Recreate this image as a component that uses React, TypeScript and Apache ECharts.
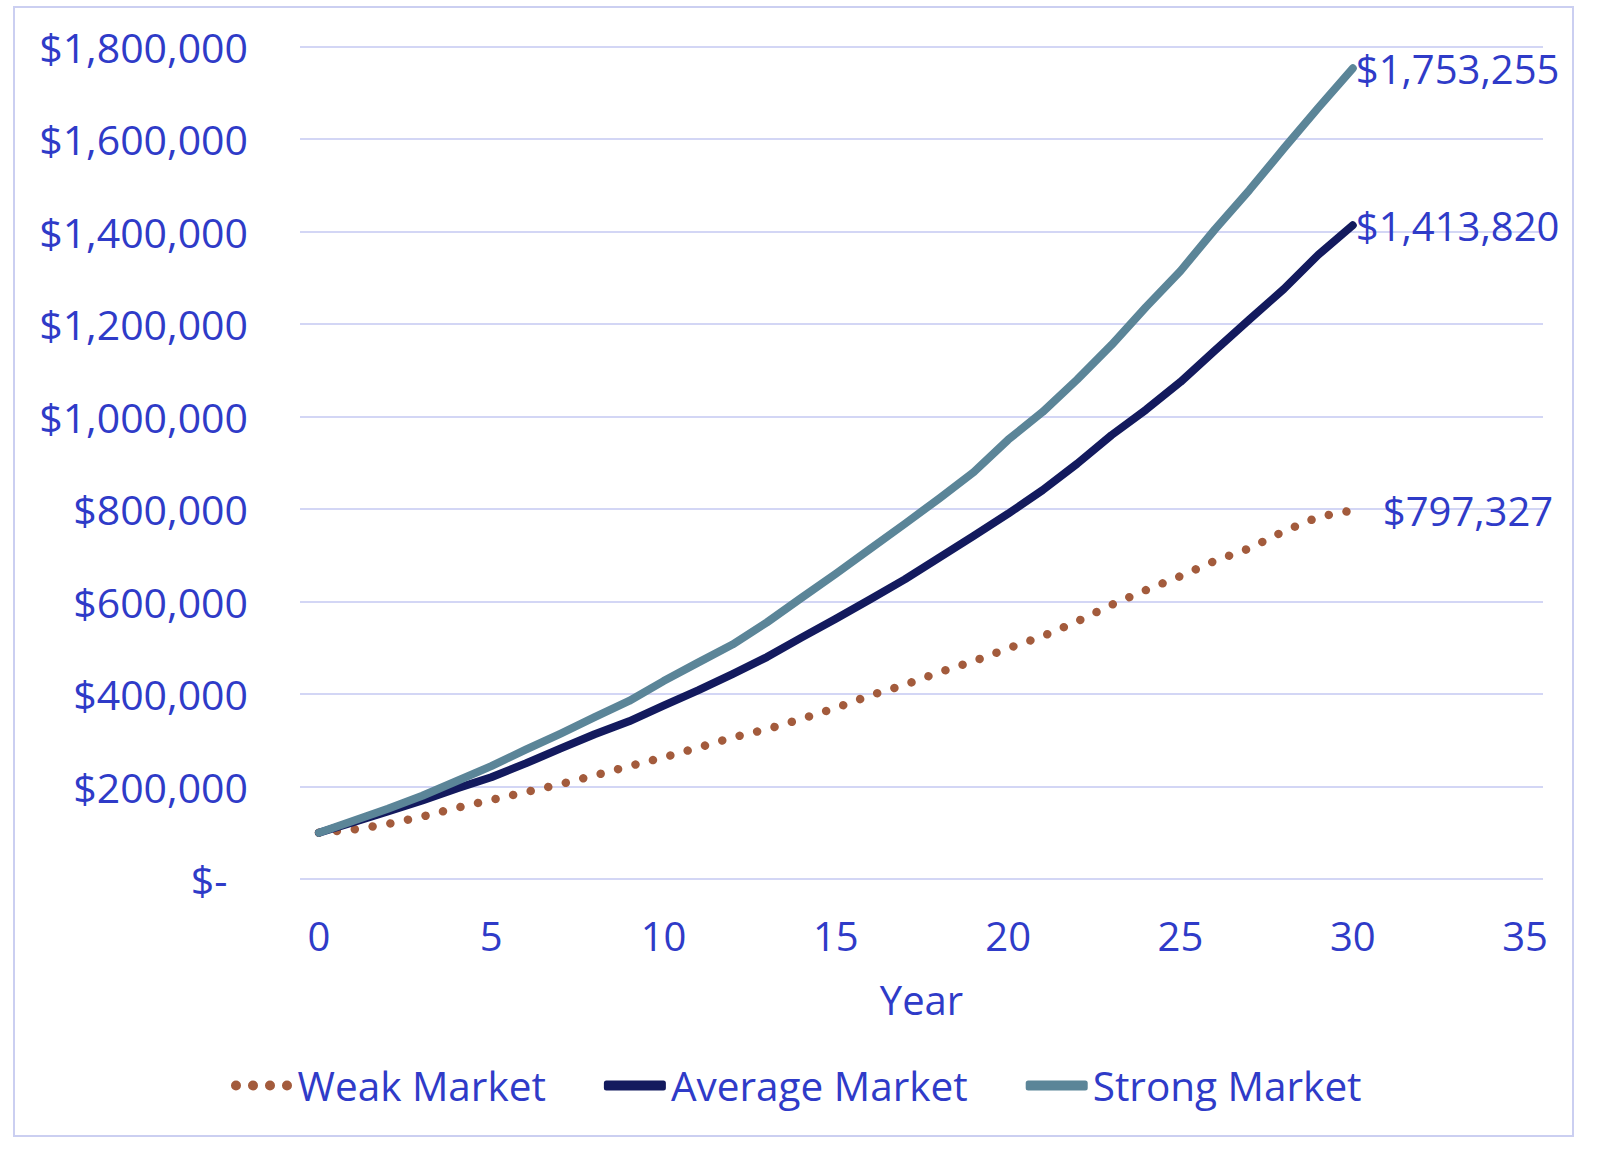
import React, { useEffect, useRef } from "react";
import * as echarts from "echarts";

const years = [0,1,2,3,4,5,6,7,8,9,10,11,12,13,14,15,16,17,18,19,20,21,22,23,24,25,26,27,28,29,30];
const weakMarket = [100000,107000,119000,135000,154000,171000,188000,205000,224000,244000,263000,284000,306000,324000,346000,370000,397000,420000,447000,471000,499000,525000,557000,593000,625000,655000,688000,715000,752000,783000,797327];
const averageMarket = [100000,123000,146000,170000,196000,220000,250000,282000,313000,341000,375000,408000,443000,480000,522000,563000,605000,648000,695000,742000,790000,841000,898000,960000,1015000,1075000,1143000,1210000,1276000,1350000,1413820];
const strongMarket = [100000,126000,152000,180000,212000,244000,280000,314000,350000,385000,428000,468000,507000,555000,608000,660000,714000,768000,823000,880000,950000,1010000,1080000,1155000,1237000,1315000,1405000,1490000,1580000,1668000,1753255];
const xTicks = [0,5,10,15,20,25,30,35];
const seriesNames = ["Weak Market", "Average Market", "Strong Market"];

const FONT = "'Open Sans', 'Noto Sans', sans-serif";
const TEXT = "#2F3BC8";
const GRID = "#D3D6F5";
const C_WEAK = "#A35B3C";
const C_AVG = "#131A5E";
const C_STRONG = "#5B8598";

const DOTS_ICON =
  "path://M0,5a5,5 0 1,0 10,0a5,5 0 1,0 -10,0z" +
  "M17,5a5,5 0 1,0 10,0a5,5 0 1,0 -10,0z" +
  "M34,5a5,5 0 1,0 10,0a5,5 0 1,0 -10,0z" +
  "M51,5a5,5 0 1,0 10,0a5,5 0 1,0 -10,0z";

const fmt = (v: number) => "$" + Math.round(v).toLocaleString("en-US");

const toData = (vals: number[]) => vals.map((v, i) => [years[i], v]);

const endLabel = (dist: number) => ({
  show: true,
  distance: dist,
  formatter: (p: any) => fmt(p.value[1]),
  color: TEXT,
  fontSize: 40,
  fontFamily: FONT,
});

export default function App() {
  const ref = useRef<HTMLDivElement>(null);
  useEffect(() => {
    document.body.style.margin = "0";
    if (!ref.current) return;
    const chart = echarts.init(ref.current, undefined, { renderer: "svg" });
    chart.setOption({
      animation: false,
      backgroundColor: "#ffffff",
      textStyle: { fontFamily: FONT },
      graphic: [
        {
          type: "rect",
          shape: { x: 14, y: 7, width: 1559, height: 1129 },
          style: { fill: "none", stroke: "#CBCFF1", lineWidth: 2 },
          silent: true,
        },
      ],
      grid: { left: 300, right: 57, top: 46.7, bottom: 273, containLabel: false },
      xAxis: {
        type: "value",
        min: -0.55,
        max: 35.52,
        name: "Year",
        nameLocation: "middle",
        nameGap: 100,
        nameTextStyle: { color: TEXT, fontSize: 40, fontFamily: FONT },
        axisLine: { show: false },
        axisTick: { show: false },
        splitLine: { show: false },
        axisLabel: {
          customValues: xTicks,
          color: TEXT,
          fontSize: 40,
          fontFamily: FONT,
          margin: 36,
        },
      },
      yAxis: {
        type: "value",
        min: 0,
        max: 1800000,
        interval: 200000,
        axisLine: { show: false },
        axisTick: { show: false },
        splitLine: { show: true, lineStyle: { color: GRID, width: 2 } },
        axisLabel: {
          color: TEXT,
          fontSize: 41,
          fontFamily: FONT,
          margin: 52,
          formatter: (v: number) => (v === 0 ? "$-\u2002" : fmt(v)),
        },
      },
      legend: {
        bottom: 41,
        left: 226,
        itemWidth: 62,
        itemHeight: 10,
        itemGap: 58,
        textStyle: { color: TEXT, fontSize: 40.5, fontFamily: FONT, padding: [0, 0, 0, 0] },
        data: [
          { name: seriesNames[0], icon: DOTS_ICON, itemStyle: { color: C_WEAK } },
          { name: seriesNames[1], icon: "roundRect", itemStyle: { color: C_AVG } },
          { name: seriesNames[2], icon: "roundRect", itemStyle: { color: C_STRONG } },
        ],
      },
      series: [
        {
          name: seriesNames[0],
          type: "line",
          symbol: "none",
          data: toData(weakMarket),
          lineStyle: { color: C_WEAK, width: 8.5, type: [0.01, 18], cap: "round" },
          itemStyle: { color: C_WEAK },
          endLabel: endLabel(30),
          z: 2,
        },
        {
          name: seriesNames[1],
          type: "line",
          symbol: "none",
          data: toData(averageMarket),
          lineStyle: { color: C_AVG, width: 8, cap: "round", join: "round" },
          itemStyle: { color: C_AVG },
          endLabel: endLabel(3),
          z: 3,
        },
        {
          name: seriesNames[2],
          type: "line",
          symbol: "none",
          data: toData(strongMarket),
          lineStyle: { color: C_STRONG, width: 8, cap: "round", join: "round" },
          itemStyle: { color: C_STRONG },
          endLabel: endLabel(3),
          z: 4,
        },
      ],
    });
    return () => chart.dispose();
  }, []);
  return <div ref={ref} style={{ width: 1600, height: 1152 }} />;
}
